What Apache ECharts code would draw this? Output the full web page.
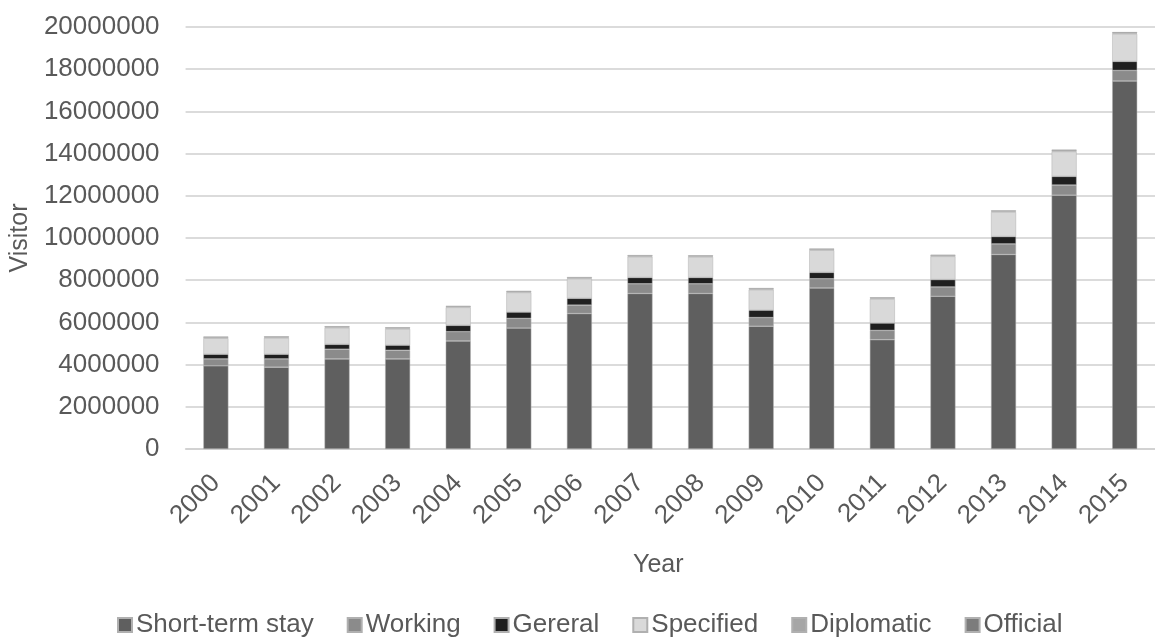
<!DOCTYPE html>
<html>
<head>
<meta charset="utf-8">
<script src="https://cdn.jsdelivr.net/npm/echarts@6/dist/echarts.min.js"></script>
<style>
html,body{margin:0;padding:0;background:#fff;}
#c{width:1155px;height:639px;}
</style>
</head>
<body>
<div id="c"></div>
<script>
const years = ['2000','2001','2002','2003','2004','2005','2006','2007','2008','2009','2010','2011','2012','2013','2014','2015'];
const shortTerm = [3940000,3880000,4270000,4270000,5120000,5730000,6420000,7370000,7370000,5820000,7630000,5180000,7240000,9220000,12030000,17440000];
const working = [330000,390000,460000,410000,440000,460000,400000,460000,460000,410000,440000,440000,440000,500000,480000,500000];
const general = [220000,220000,230000,240000,300000,300000,320000,300000,300000,350000,300000,350000,350000,350000,410000,430000];
const specified = [760000,770000,780000,770000,850000,930000,930000,980000,970000,970000,1050000,1140000,1100000,1160000,1180000,1300000];
const diplomatic = [30000,30000,30000,30000,30000,30000,30000,30000,30000,30000,30000,30000,30000,30000,30000,30000];
const official = [50000,50000,50000,50000,50000,50000,50000,50000,50000,50000,50000,50000,50000,50000,60000,60000];

const seriesDefs = [
  ['Short-term stay', shortTerm, '#5f5f5f'],
  ['Working', working, '#8b8b8b'],
  ['Gereral', general, '#1f1f1f'],
  ['Specified', specified, '#d9d9d9'],
  ['Diplomatic', diplomatic, '#a6a6a6'],
  ['Official', official, '#7c7c7c']
];

const font = 'Liberation Sans, Arial, sans-serif';
const txt = '#595959';

const chart = echarts.init(document.getElementById('c'));
chart.setOption({
  animation: false,
  textStyle: {fontFamily: font},
  grid: {left: 184, top: 27, width: 981, height: 422, containLabel: false},
  legend: {
    top: 612,
    left: 117,
    icon: 'rect',
    itemWidth: 14,
    itemHeight: 14,
    itemGap: 33,
    padding: 0,
    textStyle: {fontSize: 26, color: txt, fontFamily: font, padding: [0,0,0,-1]},
    data: seriesDefs.map(d => d[0])
  },
  xAxis: {
    type: 'category',
    data: years,
    name: 'Year',
    nameLocation: 'middle',
    nameGap: 104,
    nameTextStyle: {fontSize: 25, color: txt, padding: [0, 24, 0, 0]},
    axisLine: {lineStyle: {color: '#d0d0d0', width: 1.5}},
    axisTick: {show: false},
    axisLabel: {rotate: 45, fontSize: 26, color: txt, margin: 30, interval: 0}
  },
  yAxis: {
    type: 'value',
    min: 0,
    max: 20000000,
    interval: 2000000,
    name: 'Visitor',
    nameLocation: 'middle',
    nameRotate: 90,
    nameGap: 151,
    nameTextStyle: {fontSize: 25, color: txt},
    axisLine: {show: false},
    axisTick: {show: false},
    axisLabel: {fontSize: 26, color: txt, margin: 26, formatter: v => String(v)},
    splitLine: {lineStyle: {color: '#cfcfcf', width: 1.5}}
  },
  series: seriesDefs.map(d => ({
    name: d[0],
    type: 'bar',
    stack: 'total',
    barWidth: 25,
    data: d[1],
    itemStyle: {color: d[2], borderColor: '#b0b0b0', borderWidth: 0.5}
  }))
});
</script>
</body>
</html>
